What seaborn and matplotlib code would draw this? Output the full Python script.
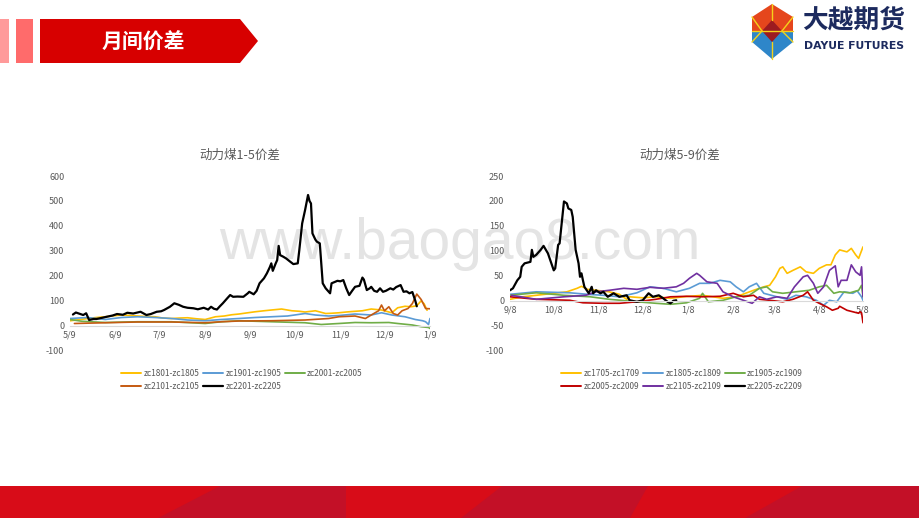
import numpy as np
import pandas as pd
import matplotlib
matplotlib.use("Agg")
import matplotlib.pyplot as plt
import matplotlib.dates as mdates
from matplotlib.patches import Polygon, Rectangle
from matplotlib.lines import Line2D
import seaborn as sns

# --- Data: left chart (1-5 spread), day offsets from 2021-05-09 ---
left_start = pd.Timestamp("2021-05-09")
left_end = pd.Timestamp("2022-01-09")

zc1801_days = [0, 6, 12, 18, 24, 30, 35, 41, 46, 52, 58, 63, 69, 75, 80, 86, 92, 99, 105, 110, 115, 121, 126, 132,
               137, 144, 151, 156, 160, 167, 174, 178, 183, 188, 192, 199, 205, 212, 219, 223, 228, 232, 236, 239, 241, 243]
zc1801_vals = [20, 24, 29, 33, 36, 40, 43, 41, 39, 37, 36, 31, 29, 31, 32, 28, 25, 36, 39, 44, 47, 52, 56, 60,
               63, 67, 60, 58, 55, 60, 49, 50, 52, 55, 57, 60, 67, 63, 52, 72, 78, 76, 80, 100, 88, 62]

zc1901_days = [0, 12, 24, 35, 46, 58, 69, 80, 92, 103, 115, 126, 137, 148, 160, 167, 176, 183, 194, 205, 212, 219,
               228, 235, 240, 242, 244, 245]
zc1901_vals = [29, 33, 25, 33, 36, 33, 29, 23, 20, 25, 29, 33, 36, 39, 49, 43, 39, 41, 47, 43, 52, 43,
               36, 25, 20, 16, 5, 29]

zc2001_days = [0, 8, 24, 46, 69, 92, 103, 115, 137, 160, 171, 183, 194, 205, 217, 223, 233, 239, 244, 245]
zc2001_vals = [25, 18, 13, 16, 16, 9, 16, 20, 16, 12, 5, 9, 13, 12, 13, 9, 3, -4, -7, -11]

zc2101_days = [3, 24, 46, 69, 92, 103, 115, 137, 160, 176, 183, 194, 201, 205, 210, 212, 214, 217, 220, 223,
               226, 230, 233, 236, 239, 242, 245]
zc2101_vals = [9, 12, 15, 15, 12, 16, 19, 20, 23, 29, 36, 39, 29, 43, 60, 83, 60, 76, 49, 43,
               60, 69, 89, 127, 105, 69, 68]

zc2201_days = [2, 4, 7, 9, 11, 13, 16, 18, 22, 25, 29, 32, 36, 39, 43, 48, 52, 55, 59, 62, 64, 68, 71, 74, 77, 80,
               84, 87, 91, 94, 96, 98, 100, 102, 104, 107, 109, 111, 114, 118, 121, 122, 125, 127, 129, 132, 134,
               136, 137, 138, 140, 141, 142, 143, 145, 147, 150, 152, 155, 156, 158, 160, 162, 163, 164, 165, 167,
               168, 170, 172, 174, 177, 178, 180, 182, 184, 186, 188, 190, 192, 194, 197, 199, 200, 202, 204, 205,
               207, 209, 211, 213, 215, 218, 220, 222, 225, 227, 229, 231, 233, 235, 236]
zc2201_vals = [45, 53, 47, 43, 50, 23, 27, 27, 32, 36, 41, 47, 44, 52, 49, 56, 43, 47, 56, 58, 63, 76, 90, 84, 76, 72,
               70, 66, 72, 65, 76, 68, 65, 78, 90, 110, 123, 116, 117, 116, 130, 136, 126, 140, 170, 190, 210,
               235, 250, 220, 250, 263, 320, 283, 277, 270, 256, 247, 250, 300, 410, 464, 524, 500, 490, 370, 345,
               337, 330, 170, 150, 130, 170, 175, 180, 178, 183, 150, 123, 140, 156, 160, 193, 185, 143, 150, 156,
               140, 136, 150, 136, 140, 150, 145, 155, 163, 136, 138, 130, 135, 100, 78]

left_names = ["zc1801-zc1805", "zc1901-zc1905", "zc2001-zc2005", "zc2101-zc2105", "zc2201-zc2205"]
left_days = [zc1801_days, zc1901_days, zc2001_days, zc2101_days, zc2201_days]
left_vals = [zc1801_vals, zc1901_vals, zc2001_vals, zc2101_vals, zc2201_vals]
left_colors = ["#FFC000", "#5B9BD5", "#70AD47", "#C55A11", "#000000"]

# --- Data: right chart (5-9 spread), day offsets from 2021-09-08 ---
right_start = pd.Timestamp("2021-09-08")
right_end = pd.Timestamp("2022-05-08")

zc1705_days = [0, 9, 18, 30, 39, 46, 49, 53, 59, 68, 75, 80, 82, 91, 100, 110, 119, 132, 146, 155, 167, 174, 178,
               182, 185, 187, 190, 194, 199, 203, 208, 212, 217, 220, 223, 226, 231, 234, 237, 239, 242]
zc1705_vals = [3, 8, 11, 15, 18, 25, 29, 23, 21, 18, 13, 3, 8, 6, 8, 5, 8, 11, 5, 8, 21, 28, 31,
               48, 65, 68, 55, 61, 68, 58, 55, 65, 72, 72, 92, 102, 98, 105, 92, 85, 108]

zc1805_days = [0, 18, 41, 53, 64, 75, 87, 96, 105, 114, 123, 130, 137, 144, 151, 155, 160, 164, 169, 174, 183,
               190, 196, 203, 210, 215, 219, 224, 229, 235, 238, 241, 242]
zc1805_vals = [13, 18, 16, 13, 11, 8, 16, 28, 25, 18, 25, 35, 35, 41, 38, 28, 18, 28, 35, 15, 8,
               3, 11, 8, 1, -9, 1, -2, 18, 15, 20, 8, 1]

zc1905_days = [0, 18, 37, 55, 68, 87, 100, 110, 121, 130, 132, 136, 146, 155, 164, 171, 176, 180, 187, 196, 205,
               212, 217, 222, 226, 233, 239, 241, 242]
zc1905_vals = [11, 16, 11, 8, 3, -2, -5, -7, -4, 5, 15, -2, 1, 8, 11, 25, 28, 18, 15, 18, 21,
               28, 31, 15, 18, 16, 21, 31, 8]

zc2005_days = [0, 18, 41, 50, 64, 75, 87, 100, 110, 121, 132, 144, 153, 160, 167, 171, 178, 187, 194, 201, 204,
               208, 212, 217, 221, 225, 226, 231, 235, 239, 240, 241, 242]
zc2005_vals = [8, 3, 1, -4, -5, -5, -2, 3, 8, 9, 8, 9, 15, 8, 11, 3, 1, -2, 3, 11, 18,
               1, -5, -12, -19, -15, -11, -19, -22, -25, -22, -24, -44]

zc2105_days = [1, 18, 37, 52, 59, 68, 78, 87, 96, 105, 114, 119, 123, 128, 130, 135, 142, 146, 153, 160, 166, 171,
               176, 183, 190, 195, 201, 204, 208, 211, 215, 219, 223, 225, 227, 231, 234, 237, 240, 241, 242]
zc2105_vals = [11, 3, 8, 11, 18, 21, 25, 23, 27, 25, 28, 35, 45, 55, 51, 38, 35, 18, 8, 1, -5, 8,
               3, 8, 5, 28, 48, 51, 35, 15, 28, 61, 70, 28, 41, 41, 72, 58, 51, 68, 8]

zc2205_days = [0, 2, 5, 7, 8, 10, 14, 15, 16, 18, 21, 23, 26, 30, 31, 33, 34, 37, 39, 40, 42, 43, 45, 47, 48, 49,
               50, 51, 54, 56, 57, 59, 62, 64, 67, 71, 75, 80, 82, 87, 91, 95, 98, 102, 105, 108, 110, 112, 114]
zc2205_vals = [21, 25, 41, 48, 68, 75, 78, 102, 88, 92, 102, 110, 95, 61, 65, 112, 115, 199, 195, 185, 182, 168,
               102, 75, 48, 55, 41, 28, 15, 28, 15, 21, 15, 18, 8, 15, 8, 11, 1, -2, 1, 15, 8, 11, 5, -2, -5, 0, 1]

right_names = ["zc1705-zc1709", "zc1805-zc1809", "zc1905-zc1909", "zc2005-zc2009", "zc2105-zc2109", "zc2205-zc2209"]
right_days = [zc1705_days, zc1805_days, zc1905_days, zc2005_days, zc2105_days, zc2205_days]
right_vals = [zc1705_vals, zc1805_vals, zc1905_vals, zc2005_vals, zc2105_vals, zc2205_vals]
right_colors = ["#FFC000", "#5B9BD5", "#70AD47", "#C00000", "#7030A0", "#000000"]

left_ticks = [-100, 0, 100, 200, 300, 400, 500, 600]
right_ticks = [-100, -50, 0, 50, 100, 150, 200, 250]

# --- Style ---
sns.set_theme(style="white")
plt.rcParams["font.family"] = ["Noto Sans CJK SC", "DejaVu Sans"]
plt.rcParams["axes.unicode_minus"] = False
GRAY = "#595959"

fig = plt.figure(figsize=(9.2, 5.18), dpi=100)

# background axes in pixel coordinates for slide decoration
bg = fig.add_axes([0, 0, 1, 1], zorder=-5)
bg.set_xlim(0, 920)
bg.set_ylim(518, 0)
bg.axis("off")

# header banner
bg.add_patch(Rectangle((0, 19), 9, 44, color="#FF9A9A", lw=0))
bg.add_patch(Rectangle((16, 19), 17, 44, color="#FF6B6B", lw=0))
bg.add_patch(Polygon([(40, 19), (240, 19), (258, 41), (240, 63), (40, 63)], closed=True, color="#D70000", lw=0))
bg.text(143, 42, "月间价差", color="white", fontsize=15, fontweight="bold", ha="center", va="center")

# logo
bg.add_patch(Polygon([(772, 4), (752, 17), (752, 31), (793, 31), (793, 17)], color="#E5461C", lw=0))
bg.add_patch(Polygon([(752, 31), (752, 42), (772, 59), (793, 42), (793, 31)], color="#2E86C9", lw=0))
bg.add_patch(Polygon([(772, 20), (762, 31), (772, 42), (782, 31)], color="#9C1B20", lw=0))
for seg in [[(772, 4), (772, 20)], [(772, 42), (772, 59)], [(752, 17), (762, 31)], [(793, 17), (782, 31)],
            [(752, 42), (762, 31)], [(793, 42), (782, 31)], [(752, 31), (793, 31)]]:
    bg.plot([p[0] for p in seg], [p[1] for p in seg], color="#F5D21A", lw=1.0)
bg.text(854, 20, "大越期货", color="#1C2A5E", fontsize=18.5, fontweight="bold", ha="center", va="center")
bg.text(854, 46, "DAYUE FUTURES", color="#1C2A5E", fontsize=7.8, fontweight="bold", ha="center", va="center",
        family="DejaVu Sans")

# bottom band
bg.add_patch(Rectangle((0, 486), 920, 32, color="#D80C18", lw=0))
for poly in [[(158, 518), (220, 486), (346, 486), (346, 518)],
             [(461, 518), (502, 486), (648, 486), (630, 518)],
             [(745, 518), (802, 486), (920, 486), (920, 518)]]:
    bg.add_patch(Polygon(poly, color="#C31027", lw=0))

# watermark
bg.text(460, 244, "www.baogao8.com", color="#E4E4E4", fontsize=41, ha="center", va="center",
        family="Liberation Sans")

# titles
bg.text(240, 155, "动力煤1-5价差", color=GRAY, fontsize=9, ha="center", va="center")
bg.text(680, 155, "动力煤5-9价差", color=GRAY, fontsize=9, ha="center", va="center")


def draw_chart(rect, start, end, names, days, vals, colors, yticks, ylim, monthday, legend_x):
    ax = fig.add_axes(rect)
    ax.set_facecolor("none")
    for name, d, v, c in zip(names, days, vals, colors):
        df = pd.DataFrame({"date": start + pd.to_timedelta(d, unit="D"), "value": v})
        lw = 1.6 if c == "#000000" else 1.2
        sns.lineplot(data=df, x="date", y="value", color=c, lw=lw, ax=ax, estimator=None)
    ax.set_xlim(start, end)
    ax.set_ylim(*ylim)
    ax.set_yticks(yticks)
    ax.xaxis.set_major_locator(mdates.MonthLocator(bymonthday=monthday))
    ax.xaxis.set_major_formatter(mdates.DateFormatter("%-m/%-d"))
    ax.set_xlabel("")
    ax.set_ylabel("")
    for s in ["top", "right", "left"]:
        ax.spines[s].set_visible(False)
    ax.spines["bottom"].set_position(("data", 0))
    ax.spines["bottom"].set_color("#D9D9D9")
    ax.spines["bottom"].set_linewidth(0.8)
    ax.tick_params(axis="x", length=0, pad=3.5, labelsize=6.5, labelcolor=GRAY)
    ax.tick_params(axis="y", length=0, pad=4, labelsize=6.5, labelcolor=GRAY)
    ax.grid(False)

    handles = [Line2D([0], [0], color=c, lw=1.6 if c == "#000000" else 1.4) for c in colors]
    n = len(handles)
    order = [0, 3, 1, 4, 2] if n == 5 else [0, 3, 1, 4, 2, 5]
    fig.legend([handles[i] for i in order], [names[i] for i in order], loc="upper center",
               bbox_to_anchor=(legend_x, 1 - 361 / 518), ncol=3, frameon=False, fontsize=6,
               handlelength=2.4, handletextpad=0.3, columnspacing=0.4, labelspacing=0.55,
               labelcolor=GRAY)
    return ax


draw_chart([70 / 920, 1 - 350.7 / 518, 360 / 920, 174.7 / 518], left_start, left_end,
           left_names, left_days, left_vals, left_colors, left_ticks, (-100, 600), 9, 242 / 920)
draw_chart([510 / 920, 1 - 350.7 / 518, 353 / 920, 174.7 / 518], right_start, right_end,
           right_names, right_days, right_vals, right_colors, right_ticks, (-100, 250), 8, 682 / 920)

fig.savefig("out.png", dpi=100)
